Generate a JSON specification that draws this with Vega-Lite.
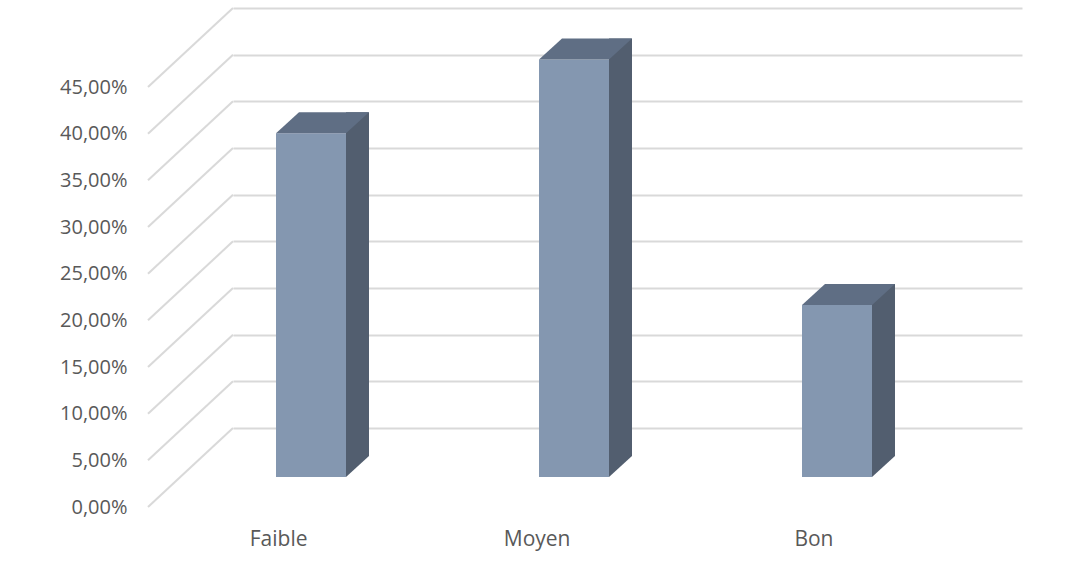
{
  "$schema": "https://vega.github.io/schema/vega-lite/v6.json",
  "width": 789,
  "height": 420,
  "autosize": {"type": "none"},
  "padding": {"left": 233, "top": 8, "right": 70, "bottom": 152},
  "background": "white",
  "config": {
    "view": {"stroke": null},
    "font": "Open Sans",
    "locale": {"number": {"decimal": ",", "thousands": " ", "grouping": [3], "currency": ["", " €"]}}
  },
  "datasets": {
    "bars": [
      {"niveau": "Faible", "pct": 0.3684},
      {"niveau": "Moyen", "pct": 0.4474},
      {"niveau": "Bon", "pct": 0.1842}
    ],
    "ticks": [
      {"t": 0}, {"t": 0.05}, {"t": 0.1}, {"t": 0.15}, {"t": 0.2},
      {"t": 0.25}, {"t": 0.3}, {"t": 0.35}, {"t": 0.4}, {"t": 0.45}
    ]
  },
  "layer": [
    {
      "data": {"name": "ticks"},
      "mark": {"type": "point", "shape": "M-131.5,0L-216.5,79", "size": 4, "filled": false, "fill": null, "stroke": "#d9d9d9", "strokeWidth": 2, "opacity": 1},
      "encoding": {
        "x": {"datum": "Faible", "type": "nominal"},
        "y": {"field": "t", "type": "quantitative"}
      }
    },
    {
      "data": {"name": "bars"},
      "mark": {"type": "bar", "width": 70, "xOffset": -53.5, "yOffset": 49, "y2Offset": 49, "color": "#8497b0"},
      "encoding": {
        "x": {
          "field": "niveau", "type": "nominal", "sort": ["Faible", "Moyen", "Bon"],
          "scale": {"paddingInner": 0, "paddingOuter": 0},
          "axis": {"title": null, "domain": false, "ticks": false, "labelOffset": -57, "labelPadding": 111, "labelFontSize": 21, "labelColor": "#595959", "labelAngle": 0}
        },
        "y": {
          "field": "pct", "type": "quantitative",
          "scale": {"domain": [0, 0.45], "nice": false, "zero": true},
          "axis": {
            "title": null, "domain": false, "ticks": false, "grid": true, "gridColor": "#d9d9d9", "gridWidth": 2,
            "values": [0, 0.05, 0.1, 0.15, 0.2, 0.25, 0.3, 0.35, 0.4, 0.45],
            "format": ".2%", "labelOffset": 79, "labelPadding": 106, "labelFontSize": 20, "labelColor": "#595959"
          }
        },
        "y2": {"datum": 0}
      }
    },
    {
      "data": {"name": "bars"},
      "mark": {"type": "bar", "width": 23, "xOffset": -7, "yOffset": 28, "y2Offset": 28, "color": "#525e6f"},
      "encoding": {
        "x": {"field": "niveau", "type": "nominal", "sort": ["Faible", "Moyen", "Bon"]},
        "y": {"field": "pct", "type": "quantitative"},
        "y2": {"datum": 0}
      }
    },
    {
      "data": {"name": "bars"},
      "mark": {"type": "point", "shape": "M-18.5,49L-18.5,27L4.5,27L4.5,28Z", "size": 4, "filled": true, "color": "#525e6f", "strokeWidth": 0, "opacity": 1},
      "encoding": {
        "x": {"field": "niveau", "type": "nominal", "sort": ["Faible", "Moyen", "Bon"]},
        "y": {"datum": 0, "type": "quantitative"}
      }
    },
    {
      "data": {"name": "bars"},
      "mark": {"type": "point", "shape": "M-88.5,49L-18.5,49L4.5,28L-65.5,28Z", "size": 4, "filled": true, "color": "#5f6e84", "strokeWidth": 0, "opacity": 1},
      "encoding": {
        "x": {"field": "niveau", "type": "nominal", "sort": ["Faible", "Moyen", "Bon"]},
        "y": {"field": "pct", "type": "quantitative"}
      }
    }
  ]
}
